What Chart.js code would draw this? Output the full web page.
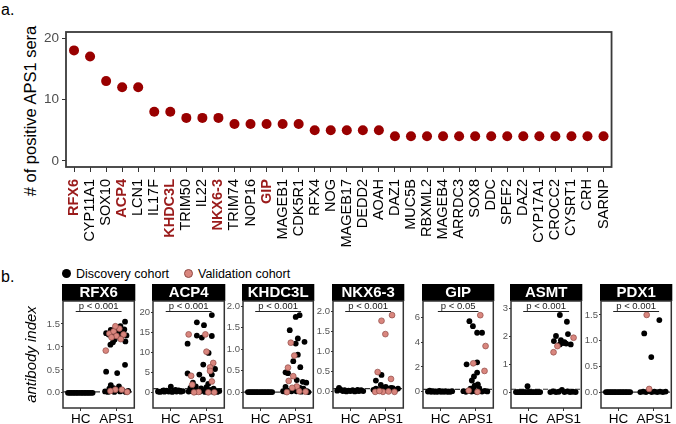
<!DOCTYPE html>
<html>
<head>
<meta charset="utf-8">
<script src="https://cdn.jsdelivr.net/npm/chart.js@4.4.0/dist/chart.umd.min.js"></script>
<style>
  body { margin: 0; background: #fff; }
  #wrap { position: relative; width: 676px; height: 424px; overflow: hidden; font-family: "Liberation Sans", Arial, sans-serif; }
  canvas { position: absolute; }
  .lbl { position: absolute; color: #000; white-space: nowrap; }
  .dot { position: absolute; width: 9px; height: 9px; border-radius: 50%; box-sizing: border-box; }
</style>
</head>
<body>
<div id="wrap">
  <div class="lbl" style="left:1px;top:1px;font-size:16px;">a.</div>
  <div class="lbl" style="left:30px;top:111px;font-size:16.5px;transform:translate(-50%,-50%) rotate(-90deg);"># of positive APS1 sera</div>
  <div class="lbl" style="left:1px;top:268px;font-size:16px;">b.</div>
  <div class="dot" style="left:62px;top:269px;background:#000;"></div>
  <div class="lbl" style="left:76px;top:267px;font-size:12.5px;">Discovery cohort</div>
  <div class="dot" style="left:184px;top:269px;background:#d9867e;border:1px solid #8f4b46;"></div>
  <div class="lbl" style="left:198px;top:267px;font-size:12.5px;">Validation cohort</div>

  <canvas id="topMain" width="628" height="262" style="left:0;top:0;"></canvas>
  <canvas id="topSide" width="48" height="262" style="left:628px;top:0;"></canvas>
</div>

<script>
// ---- panel a ----
const genes = ['RFX6','CYP11A1','SOX10','ACP4','LCN1','IL17F','KHDC3L','TRIM50','IL22','NKX6-3',
  'TRIM74','NOP16','GIP','MAGEB1','CDK5R1','RFX4','NOG','MAGEB17','DEDD2','AOAH',
  'DAZ1','MUC5B','RBXML2','MAGEB4','ARRDC3','SOX8','DDC','SPEF2','DAZ2','CYP17A1',
  'CROCC2','CYSRT1','CRH','SARNP'];
const positives = [18,17,13,12,12,8,8,7,7,7,6,6,6,6,6,5,5,5,5,5,4,4,4,4,4,4,4,4,4,4,4,4,4,4];
const genesSide = ['ASMT','PDX1'];
const positivesSide = [3,2];
const highlighted = ['RFX6','ACP4','KHDC3L','NKX6-3','GIP','ASMT','PDX1'];
const countTicks = [0,10,20];

// ---- panel b (x: jitter around HC=0 / APS1=1, y: antibody index) ----
const hcZero = [[-0.36,0],[-0.31,0],[-0.27,0],[-0.22,0],[-0.18,0],[-0.13,0],[-0.09,0],[-0.04,0],[0.01,0],[0.05,0],[0.1,0],[0.14,0],[0.19,0],[0.23,0],[0.28,0],[0.33,0]];

const rfx6Disc = [[0.71,1.3],[0.78,1.27],[0.84,1.37],[0.97,1.41],[1.11,1.45],[1.24,1.55],[1.05,1.33],[1.18,1.31],[1.28,1.25],[0.9,1.22],[1.14,1.23],[1.25,1.12],[0.95,1.16],[0.83,1.05],[0.9,1.1],[1.22,1.38],[1.02,1.28],
  [1.24,0.61],[0.71,0.46],[1.02,0.43],[0.84,0.17],[1.07,0.14],[0.8,0.09],[0.92,0.1],
  [0.68,0.03],[0.76,0.02],[0.86,0.05],[0.94,0.02],[1.0,0.06],[1.1,0.03],[1.18,0.05],[1.26,0.02],[1.33,0.04]];
const rfx6Val = [[0.7,0.92],[0.8,1.29],[0.92,1.34],[1.0,1.24],[1.08,1.4],[0.86,1.21],[1.2,1.27],[1.12,1.17],[0.97,1.45],[0.97,0.07],[1.3,0.02],[0.83,0.04],[1.15,0.07]];

const acp4HC = [[-0.36,0.3],[-0.3,0.2],[-0.24,0.4],[-0.18,0.25],[-0.12,0.5],[-0.06,0.3],[0.0,1.5],[0.04,0.2],[0.1,0.45],[0.16,0.3],[0.22,0.55],[0.28,0.25],[0.34,0.4],[-0.2,0.6],[0.13,0.7]];
const acp4Disc = [[1.15,19.3],[0.73,17.5],[0.93,16.8],[0.73,14.2],[0.87,13.7],[1.15,14.1],[0.47,12.2],[1.06,9.9],[0.91,7.0],[1.24,5.9],[0.47,4.8],[0.8,4.5],[1.15,4.5],[0.9,3.3],[0.62,2.5],[1.05,2.2],
  [0.55,1.2],[0.7,1.6],[0.85,1.1],[1.0,1.4],[1.2,1.0],[0.6,0.4],[0.68,0.2],[0.76,0.5],[0.82,0.3],[0.9,0.6],[0.96,0.2],[1.02,0.4],[1.1,0.7],[1.16,0.3],[1.24,0.5],[1.3,0.2],[1.36,0.4],[0.5,0.3]];
const acp4Val = [[0.5,14.5],[0.97,14.5],[1.0,10.2],[1.19,7.4],[1.1,6.3],[1.1,5.4],[0.57,4.2],[1.15,2.8],[0.6,2.0],[0.78,0.2],[1.22,0.1],[1.05,0.1],[0.65,0.1]];

const khdc3lDisc = [[1.11,1.79],[1.0,1.75],[0.83,1.44],[1.06,1.25],[1.0,1.13],[1.25,1.17],[1.06,0.87],[0.93,0.72],[1.13,0.58],[0.71,0.46],[0.78,0.44],[1.03,0.28],[1.2,0.24],[1.3,0.22],[0.71,0.12],[1.12,0.1],[1.22,0.08],
  [0.64,0.02],[0.72,0.01],[0.8,0.03],[0.88,0.02],[0.95,0.05],[1.02,0.02],[1.08,0.04],[1.16,0.01],[1.24,0.03],[1.32,0.02],[1.36,0.0]];
const khdc3lVal = [[0.86,1.15],[0.96,0.85],[0.78,0.57],[0.93,0.37],[0.8,0.26],[1.03,0.13],[0.9,0.1],[1.1,0.02],[0.75,0.0],[1.28,0.01]];

const nkx63HC = [[-0.38,0.03],[-0.33,0.1],[-0.28,0.05],[-0.22,0.02],[-0.17,0.04],[-0.12,0.01],[-0.06,0.03],[0.0,0.02],[0.06,0.04],[0.12,0.01],[0.18,0.03],[0.24,0.02],[0.3,0.04],[0.36,0.02],[-0.3,0.06],[0.2,0.05]];
const nkx63Disc = [[0.88,0.42],[0.72,0.28],[0.86,0.17],[1.0,0.12],[0.65,0.05],[0.72,0.08],[0.8,0.04],[0.9,0.09],[0.98,0.05],[1.05,0.08],[1.12,0.06],[1.2,0.09],[1.28,0.05],[1.35,0.08],[0.95,0.1],[1.15,0.1]];
const nkx63Val = [[1.18,1.9],[0.88,1.76],[0.99,1.43],[0.77,0.49],[1.15,0.32],[0.7,0.0],[0.92,0.0],[1.25,0.0],[1.08,0.01],[0.82,0.02]];

const gipHC = [[-0.36,0.02],[-0.31,0.1],[-0.27,0.0],[-0.22,0.05],[-0.18,0.0],[-0.13,0.03],[-0.09,0.0],[-0.04,0.08],[0.01,0.0],[0.05,0.04],[0.1,0.0],[0.14,0.06],[0.19,0.0],[0.23,0.02],[0.28,0.0],[0.33,0.05]];
const gipDisc = [[0.82,5.68],[0.92,5.28],[1.04,4.75],[1.18,4.75],[0.74,2.21],[1.04,2.37],[1.04,1.55],[0.95,1.23],[0.89,0.91],[1.06,0.6],[0.97,0.5],[1.1,0.3],[0.85,0.25],[0.93,0.3],
  [0.65,0.05],[0.72,0.0],[0.8,0.08],[0.88,0.02],[0.96,0.05],[1.02,0.0],[1.1,0.06],[1.18,0.02],[1.26,0.08],[1.33,0.03]];
const gipVal = [[1.13,6.16],[1.28,3.68],[0.93,2.29],[1.25,1.68],[0.8,0.1],[1.05,0.0]];

const asmtHC = [[-0.03,0.21]];
const asmtDisc = [[0.89,2.75],[1.09,2.51],[1.12,2.07],[0.78,2.0],[0.72,1.82],[0.92,1.85],[0.98,1.75],[1.07,1.73],[0.89,1.7],[1.2,1.7],[1.02,1.78],
  [0.62,0.0],[0.7,0.02],[0.78,0.0],[0.86,0.01],[0.95,0.08],[1.02,0.0],[1.1,0.02],[1.18,0.0],[1.26,0.01],[1.34,0.0]];
const asmtVal = [[1.28,1.94],[0.82,1.64],[0.71,1.42]];

const pdx1Disc = [[1.16,1.4],[0.73,1.14],[0.93,0.68],[0.62,0.0],[0.7,0.01],[0.78,0.0],[0.86,0.02],[0.94,0.0],[1.02,0.01],[1.1,0.0],[1.18,0.01],[1.26,0.0],[1.34,0.01]];
const pdx1Val = [[0.8,1.5],[0.87,0.06]];

const ticksRfx6 = [0,0.5,1,1.5];
const ticksAcp4 = [0,5,10,15,20];
const ticksTwo = [0,0.5,1,1.5,2];
const ticksGip = [0,2,4,6];
const ticksAsmt = [0,1,2,3];

const panels = [
  {name:'RFX6',   p:'p < 0.001', left:63,  w:75, yMin:-0.33, yMax:2.0,  ticks:ticksRfx6, dec:1, cut:0.02, hc:hcZero,  disc:rfx6Disc,   val:rfx6Val},
  {name:'ACP4',   p:'p < 0.001', left:153, w:75, yMin:-3.8,  yMax:22.8, ticks:ticksAcp4, dec:0, cut:1.0,  hc:acp4HC,  disc:acp4Disc,   val:acp4Val},
  {name:'KHDC3L', p:'p < 0.001', left:243, w:74, yMin:-0.37, yMax:2.12, ticks:ticksTwo,  dec:1, cut:0.0,  hc:hcZero,  disc:khdc3lDisc, val:khdc3lVal},
  {name:'NKX6-3', p:'p < 0.001', left:333, w:74, yMin:-0.4,  yMax:2.25, ticks:ticksTwo,  dec:1, cut:0.08, hc:nkx63HC, disc:nkx63Disc,  val:nkx63Val},
  {name:'GIP',    p:'p < 0.05',  left:423, w:74, yMin:-1.3,  yMax:7.3,  ticks:ticksGip,  dec:0, cut:0.2,  hc:gipHC,   disc:gipDisc,    val:gipVal},
  {name:'ASMT',   p:'p < 0.001', left:511, w:74, yMin:-0.57, yMax:3.25, ticks:ticksAsmt, dec:0, cut:0.1,  hc:hcZero.concat(asmtHC), disc:asmtDisc, val:asmtVal},
  {name:'PDX1',   p:'p < 0.001', left:601, w:74, yMin:-0.31, yMax:1.77, ticks:ticksRfx6, dec:1, cut:0.0,  hc:hcZero,  disc:pdx1Disc,   val:pdx1Val}
];

Chart.defaults.font.family = '"Liberation Sans", Arial, sans-serif';
Chart.defaults.animation = false;
Chart.defaults.events = [];
Chart.defaults.plugins.legend.display = false;
Chart.defaults.plugins.tooltip.enabled = false;

const RED = '#990000';
const LABEL_RED = '#9a1b1b';
const PINK = '#d9867e';

// box around the plot area, optional strip header and p-value text
const framePlugin = {
  id: 'frame',
  afterDraw(chart, args, opts) {
    const ctx = chart.ctx, a = chart.chartArea;
    const cx = (a.left + a.right) / 2;
    ctx.save();
    if (opts.header) {
      ctx.fillStyle = '#000';
      ctx.fillRect(a.left - 1, a.top - 17, a.right - a.left + 2, 17);
      ctx.fillStyle = '#fff';
      ctx.font = 'bold 15px "Liberation Sans", Arial, sans-serif';
      ctx.textAlign = 'center';
      ctx.textBaseline = 'middle';
      ctx.fillText(opts.header, cx, a.top - 8);
    }
    if (opts.pText) {
      ctx.fillStyle = '#222';
      ctx.font = '9.5px "Liberation Sans", Arial, sans-serif';
      ctx.textAlign = 'center';
      ctx.textBaseline = 'alphabetic';
      ctx.fillText(opts.pText, cx, a.top + 8);
      const tw = ctx.measureText(opts.pText).width;
      ctx.strokeStyle = '#222';
      ctx.lineWidth = 1;
      ctx.beginPath();
      ctx.moveTo(cx - tw / 2 - 3, a.top + 10.5);
      ctx.lineTo(cx + tw / 2 + 3, a.top + 10.5);
      ctx.stroke();
    }
    ctx.strokeStyle = opts.color || '#333';
    ctx.lineWidth = opts.lineWidth || 1.5;
    ctx.strokeRect(a.left, a.top, a.right - a.left, a.bottom - a.top);
    ctx.restore();
  }
};

function tickFont(ctx, labels) {
  const bold = highlighted.includes(labels[ctx.index]);
  return { size: 14.5, weight: bold ? 'bold' : 'normal' };
}
function tickColor(ctx, labels) {
  return highlighted.includes(labels[ctx.index]) ? LABEL_RED : '#000';
}

function topChart(id, labels, values, withY, pad) {
  return new Chart(document.getElementById(id), {
    type: 'line',
    data: {
      labels: labels,
      datasets: [{
        data: values,
        showLine: false,
        pointRadius: 5,
        pointBackgroundColor: RED,
        pointBorderColor: RED,
        pointBorderWidth: 0
      }]
    },
    options: {
      responsive: false,
      devicePixelRatio: 1,
      layout: { padding: pad },
      plugins: { frame: { color: '#3a3a3a', lineWidth: 1.8 } },
      scales: {
        x: {
          offset: true,
          grid: { display: true, drawOnChartArea: false, offset: false, tickLength: 5, color: '#333' },
          border: { display: false },
          ticks: {
            autoSkip: false, minRotation: 90, maxRotation: 90, padding: 7,
            font: ctx => tickFont(ctx, labels),
            color: ctx => tickColor(ctx, labels)
          },
          afterFit: s => { s.height = 95; }
        },
        y: {
          display: withY,
          min: -1, max: 21,
          afterBuildTicks: s => { s.ticks = countTicks.map(v => ({ value: v })); },
          grid: { drawOnChartArea: false, tickLength: 4, color: '#333' },
          border: { display: false },
          ticks: { font: { size: 13.5 }, color: '#4d4d4d', padding: 3 },
          afterFit: s => { s.width = 66; }
        }
      }
    },
    plugins: [framePlugin]
  });
}

topChart('topMain', genes, positives, true, { top: 32, right: 3, left: 0, bottom: 0 });
topChart('topSide', genesSide, positivesSide, false, { top: 32, right: 1, left: 3, bottom: 0 });

const wrap = document.getElementById('wrap');
panels.forEach((p, i) => {
  const axisW = i === 0 ? 63 : 24;
  const cv = document.createElement('canvas');
  cv.width = axisW + p.w + 1;
  cv.height = 141;
  cv.style.left = (p.left - axisW) + 'px';
  cv.style.top = '283px';
  wrap.appendChild(cv);
  const toPts = arr => arr.map(d => ({ x: d[0], y: d[1] }));
  new Chart(cv, {
    type: 'scatter',
    data: {
      datasets: [
        { data: toPts(p.val), pointRadius: 2.9, pointBackgroundColor: PINK, pointBorderColor: '#8f4b46', pointBorderWidth: 0.7 },
        { data: toPts(p.disc), pointRadius: 2.9, pointBackgroundColor: '#000', pointBorderColor: '#000', pointBorderWidth: 0 },
        { data: toPts(p.hc), pointRadius: 2.9, pointBackgroundColor: '#000', pointBorderColor: '#000', pointBorderWidth: 0 },
        { type: 'line', data: [{ x: -0.5, y: p.cut }, { x: 1.5, y: p.cut }], pointRadius: 0,
          borderColor: '#333', borderWidth: 1.2, borderDash: [5, 3] }
      ]
    },
    options: {
      responsive: false,
      devicePixelRatio: 1,
      layout: { padding: { top: 18, right: 1, left: 0, bottom: 0 } },
      plugins: { frame: { header: p.name, pText: p.p, color: '#333', lineWidth: 1.5 } },
      scales: {
        x: {
          type: 'linear', min: -0.5, max: 1.5,
          afterBuildTicks: s => { s.ticks = [{ value: 0 }, { value: 1 }]; },
          grid: { drawOnChartArea: false, tickLength: 3, color: '#333' },
          border: { display: false },
          ticks: { font: { size: 13.5 }, color: '#000', padding: 0,
            callback: v => (v === 0 ? 'HC' : 'APS1') },
          afterFit: s => { s.height = 16; }
        },
        y: {
          min: p.yMin, max: p.yMax,
          afterBuildTicks: s => { s.ticks = p.ticks.map(v => ({ value: v })); },
          grid: { drawOnChartArea: false, tickLength: 2, color: '#333' },
          border: { display: false },
          ticks: { font: { size: 9.5 }, color: '#555', padding: 1,
            callback: v => Number(v).toFixed(p.dec) },
          title: {
            display: i === 0, text: 'antibody index', color: '#000',
            font: { size: 15, style: 'italic' }, padding: { top: 23, bottom: 0 }
          },
          afterFit: s => { s.width = axisW; }
        }
      }
    },
    plugins: [framePlugin]
  });
});
</script>
</body>
</html>
